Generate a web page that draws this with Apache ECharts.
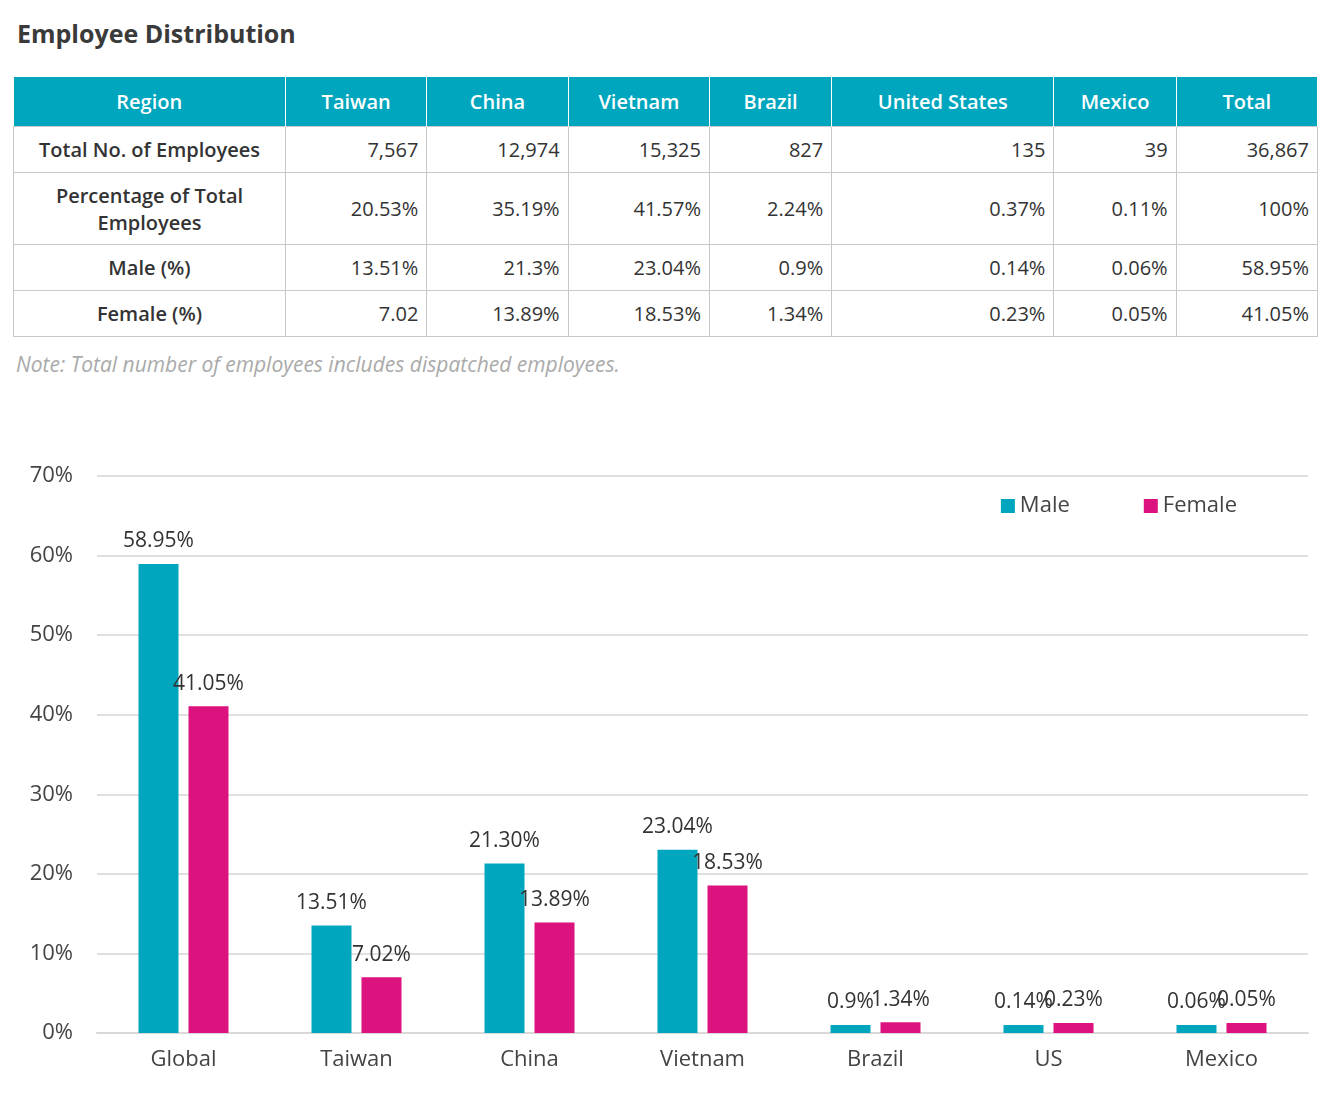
<!DOCTYPE html>
<html>
<head>
<meta charset="utf-8">
<title>Employee Distribution</title>
<script src="https://cdn.jsdelivr.net/npm/echarts@6/dist/echarts.min.js"></script>
<style>
	body{margin:0;background:#fff;font-family:"Open Sans","Noto Sans",sans-serif;color:#333;}
	h1{position:absolute;left:17px;top:16px;margin:0;font-size:25px;font-weight:bold;color:#3a3a3a;}
	table{position:absolute;left:13px;top:77px;width:1305px;border-collapse:collapse;font-size:20px;}
	th{background:#00A6BE;color:#fff;font-weight:600;height:47px;border-right:1px solid #fff;}
	td{border:1px solid #c8c8c8;text-align:right;padding:0 8px;height:45px;}
	td.h{text-align:center;font-weight:600;width:255px;}
	.note{position:absolute;left:16px;top:350px;font-size:21px;font-style:italic;color:#aaa;}
	#chart{position:absolute;left:0;top:430px;width:1342px;height:665px;}
</style>
</head>
<body>
<h1>Employee Distribution</h1>
<table id="tbl"></table>
<div class="note">Note: Total number of employees includes dispatched employees.</div>
<div id="chart"></div>
<script>
var tableHead=['Region','Taiwan','China','Vietnam','Brazil','United States','Mexico','Total'];
var rowNames=['Total No. of Employees','Percentage of Total<br>Employees','Male (%)','Female (%)'];
var rowTotal=['7,567','12,974','15,325','827','135','39','36,867'];
var rowPct=['20.53%','35.19%','41.57%','2.24%','0.37%','0.11%','100%'];
var rowMale=['13.51%','21.3%','23.04%','0.9%','0.14%','0.06%','58.95%'];
var rowFemale=['7.02','13.89%','18.53%','1.34%','0.23%','0.05%','41.05%'];

var categories=['Global','Taiwan','China','Vietnam','Brazil','US','Mexico'];
var male=[58.95,13.51,21.30,23.04,0.9,0.14,0.06];
var female=[41.05,7.02,13.89,18.53,1.34,0.23,0.05];
var maleLabels=['58.95%','13.51%','21.30%','23.04%','0.9%','0.14%','0.06%'];
var femaleLabels=['41.05%','7.02%','13.89%','18.53%','1.34%','0.23%','0.05%'];

var html='<tr>'+tableHead.map(function(h){return '<th>'+h+'</th>';}).join('')+'</tr>';
var rows=[rowTotal,rowPct,rowMale,rowFemale];
var heights=[45,72,45,45];
for(var i=0;i<rows.length;i++){
	html+='<tr style="height:'+heights[i]+'px"><td class="h">'+rowNames[i]+'</td>'+rows[i].map(function(v){return '<td>'+v+'</td>';}).join('')+'</tr>';
}
document.getElementById('tbl').innerHTML=html;

var myChart=echarts.init(document.getElementById('chart'));
var lbl={show:true,position:'top',fontSize:21,color:'#333',distance:12};
myChart.setOption({
	textStyle:{fontFamily:'Open Sans'},
	grid:{left:97,right:34,top:46,bottom:62},
	legend:{right:100,top:60,itemWidth:14,itemHeight:14,itemGap:74,icon:'rect',
		textStyle:{fontSize:22,color:'#444'},data:['Male','Female']},
	xAxis:{type:'category',data:categories,axisTick:{show:false},
		axisLine:{lineStyle:{color:'#d9d9d9',width:2}},
		axisLabel:{fontSize:22,color:'#444',margin:16}},
	yAxis:{type:'value',min:0,max:70,interval:10,
		axisLabel:{formatter:'{value}%',fontSize:22,color:'#444',margin:24},
		splitLine:{lineStyle:{color:'#e0e0e0',width:2}}},
	series:[
		{name:'Male',type:'bar',data:male,barWidth:40,barGap:'25%',barMinHeight:8,
			itemStyle:{color:'#00A6BE'},
			label:Object.assign({},lbl,{formatter:function(p){return maleLabels[p.dataIndex];}})},
		{name:'Female',type:'bar',data:female,barWidth:40,barMinHeight:10,
			itemStyle:{color:'#DC137F'},
			label:Object.assign({},lbl,{formatter:function(p){return femaleLabels[p.dataIndex];}})}
	]
});
</script>
</body>
</html>
